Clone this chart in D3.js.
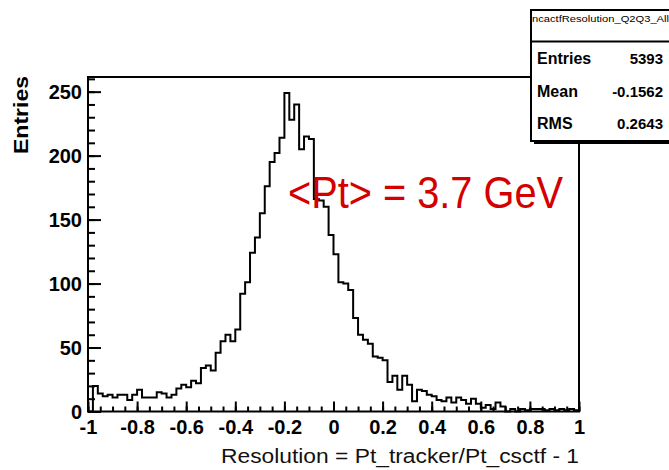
<!DOCTYPE html>
<html>
<head>
<meta charset="utf-8">
<script src="https://cdn.jsdelivr.net/npm/d3@7/dist/d3.min.js"></script>
<style>
  html, body { margin: 0; padding: 0; background: #fff; overflow: hidden; }
  svg { display: block; }
  text { font-family: "Liberation Sans", Arial, Helvetica, sans-serif; }
</style>
</head>
<body>
<svg id="chart" width="669" height="470"></svg>
<script>
// Histogram range and per-bin contents (100 bins of width 0.02)
const binLow = -1;
const binHigh = 1;
const counts = [
    0,  20,  14,  12,  13,  11,  13,  13,   9,  13,
   17,  11,  11,  11,  15,  14,  11,  13,  18,  21,
   19,  24,  22,  34,  36,  32,  46,  55,  60,  55,
   64,  92, 101, 124, 136, 155, 176, 195, 202, 214,
  249, 228, 240, 205, 215, 213, 166, 165, 160, 138,
  123, 101, 100,  95,  73,  60,  56,  53,  43,  42,
   40,  23,  28,  17,  28,  21,   8,  17,  16,  13,
   12,   9,   8,  11,   7,  11,   9,   6,  10,   6,
    3,   5,   2,   7,   4,   0,   2,   0,   2,   1,
    2,   2,   2,   1,   2,   1,   2,   1,   2,   1
];

// Axis ticks and labels
const xTickValues = [-1, -0.8, -0.6, -0.4, -0.2, 0, 0.2, 0.4, 0.6, 0.8, 1];
const xTickLabels = ["-1", "-0.8", "-0.6", "-0.4", "-0.2", "0", "0.2", "0.4", "0.6", "0.8", "1"];
const yTickValues = [0, 50, 100, 150, 200, 250];
const yTickLabels = ["0", "50", "100", "150", "200", "250"];
const xMinorStep = 0.05;
const yMinorStep = 10;

// Titles and statistics box
const xTitle = "Resolution = Pt_tracker/Pt_csctf - 1";
const yTitle = "Entries";
const histName = "ncactfResolution_Q2Q3_All";
const statNames = ["Entries", "Mean", "RMS"];
const statValues = ["5393", "-0.1562", "0.2643"];
const note = "<Pt> = 3.7 GeV";

// ---------------------------------------------------------------
const svg = d3.select("#chart");
const frame = { left: 88, right: 579, top: 77, bottom: 411.5 };
const lineW = 2;

const nBins = counts.length;
const binWidth = (binHigh - binLow) / nBins;
const yMax = d3.max(counts) * 1.05;

const x = d3.scaleLinear().domain([binLow, binHigh]).range([frame.left, frame.right]);
const y = d3.scaleLinear().domain([0, yMax]).range([frame.bottom, frame.top]);

// frame
svg.append("rect")
  .attr("x", frame.left).attr("y", frame.top)
  .attr("width", frame.right - frame.left)
  .attr("height", frame.bottom - frame.top)
  .attr("fill", "none").attr("stroke", "#000").attr("stroke-width", lineW);

// histogram outline (step drawing from the baseline and back)
const pts = [[binLow, 0]];
counts.forEach((c, i) => {
  const lo = binLow + i * binWidth;
  pts.push([lo, c], [lo + binWidth, c]);
});
pts.push([binHigh, 0]);

svg.append("path")
  .attr("d", d3.line().x(d => x(d[0])).y(d => y(d[1]))(pts))
  .attr("fill", "none").attr("stroke", "#000")
  .attr("stroke-width", lineW).attr("stroke-linejoin", "miter");

// x axis: ticks point into the frame
const xMinor = d3.range(binLow, binHigh + 1e-9, xMinorStep).map(v => +v.toFixed(4));
const gxMinor = svg.append("g").attr("transform", `translate(0,${frame.bottom})`)
  .call(d3.axisBottom(x).tickValues(xMinor).tickSizeInner(-5).tickSizeOuter(0).tickFormat(""));
const gx = svg.append("g").attr("transform", `translate(0,${frame.bottom})`)
  .call(d3.axisBottom(x).tickValues(xTickValues).tickSizeInner(-10).tickSizeOuter(0)
    .tickPadding(12).tickFormat((d, i) => xTickLabels[i]));

// y axis
const yMinor = d3.range(0, yMax, yMinorStep);
const gyMinor = svg.append("g").attr("transform", `translate(${frame.left},0)`)
  .call(d3.axisLeft(y).tickValues(yMinor).tickSizeInner(-7).tickSizeOuter(0).tickFormat(""));
const gy = svg.append("g").attr("transform", `translate(${frame.left},0)`)
  .call(d3.axisLeft(y).tickValues(yTickValues).tickSizeInner(-13).tickSizeOuter(0)
    .tickPadding(6).tickFormat((d, i) => yTickLabels[i]));

[gxMinor, gx, gyMinor, gy].forEach(g => {
  g.select(".domain").remove();
  g.selectAll(".tick line").attr("stroke", "#000").attr("stroke-width", lineW);
});

gx.selectAll(".tick text")
  .attr("font-size", 20).attr("font-weight", "bold").attr("fill", "#000")
  .attr("dy", null).attr("y", 22);
gy.selectAll(".tick text")
  .attr("font-size", 20).attr("font-weight", "bold").attr("fill", "#000")
  .attr("x", -6).attr("dy", "0.36em");

// axis titles
svg.append("text")
  .attr("x", frame.right).attr("y", 463)
  .attr("text-anchor", "end").attr("font-size", 20)
  .attr("textLength", 358).attr("lengthAdjust", "spacingAndGlyphs")
  .attr("fill", "#111")
  .text(xTitle);

svg.append("text")
  .attr("transform", `translate(28,${frame.top - 1}) rotate(-90)`)
  .attr("text-anchor", "end").attr("font-size", 21).attr("font-weight", "bold")
  .attr("textLength", 78).attr("lengthAdjust", "spacingAndGlyphs")
  .text(yTitle);

// annotation
svg.append("text")
  .attr("x", 288).attr("y", 208)
  .attr("font-family", "'Noto Sans', sans-serif")
  .attr("font-size", 44).attr("fill", "#d40000")
  .attr("textLength", 275).attr("lengthAdjust", "spacingAndGlyphs")
  .text(note);

// statistics box with shadow
const box = { x: 531, y: 10, w: 200, h: 131 };
svg.append("rect")
  .attr("x", box.x + 3).attr("y", box.y + box.h)
  .attr("width", box.w).attr("height", 3).attr("fill", "#000");
svg.append("rect")
  .attr("x", box.x).attr("y", box.y).attr("width", box.w).attr("height", box.h)
  .attr("fill", "#fff").attr("stroke", "#000").attr("stroke-width", lineW);
svg.append("line")
  .attr("x1", box.x).attr("x2", box.x + box.w)
  .attr("y1", 41.5).attr("y2", 41.5)
  .attr("stroke", "#000").attr("stroke-width", lineW);

svg.append("clipPath").attr("id", "boxclip")
  .append("rect").attr("x", box.x + 1).attr("y", box.y).attr("width", box.w).attr("height", box.h);
svg.append("text")
  .attr("clip-path", "url(#boxclip)")
  .attr("x", 532).attr("y", 22).attr("font-size", 9)
  .attr("textLength", 137).attr("lengthAdjust", "spacingAndGlyphs")
  .text(histName);

const rowY = [64, 97, 129];
statNames.forEach((s, i) => {
  svg.append("text").attr("x", 537).attr("y", rowY[i])
    .attr("font-size", 16).attr("font-weight", "bold").text(s);
  svg.append("text").attr("x", 663).attr("y", rowY[i])
    .attr("text-anchor", "end")
    .attr("font-size", 15).attr("font-weight", "bold").text(statValues[i]);
});
</script>
</body>
</html>
